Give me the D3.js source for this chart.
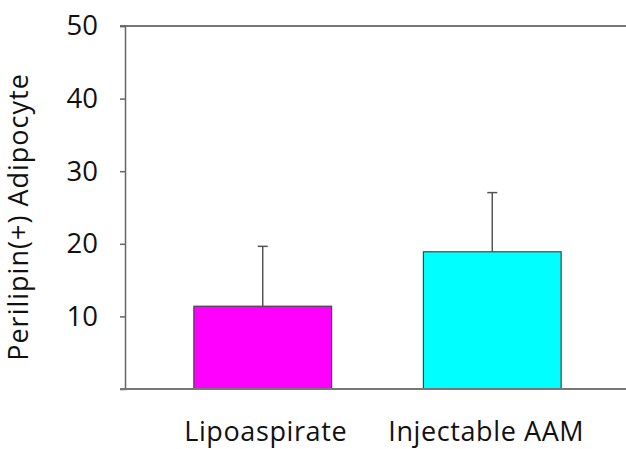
<!DOCTYPE html>
<html>
<head>
<meta charset="utf-8">
<script src="https://cdn.jsdelivr.net/npm/d3@7"></script>
<style>
  body { margin: 0; background: #fff; }
  text { font-family: "Open Sans", sans-serif; fill: #111; }
</style>
</head>
<body>
<div class="svg-container"></div>
<script>
// chart data
const categories = ["Lipoaspirate", "Injectable AAM"];
const means = [11.4, 18.9];
const errors = [8.25, 8.15];
const barColors = ["#ff00ff", "#00ffff"];
const yTicks = [10, 20, 30, 40, 50];
const yTitle = "Perilipin(+) Adipocyte";

const width = 626;
const height = 449;
const margin = { top: 26, left: 125, bottom: 60 };

const svg = d3
  .select(".svg-container")
  .append("svg")
  .attr("width", width)
  .attr("height", height);

// scales
const xScale = d3
  .scaleBand()
  .domain(categories)
  .range([margin.left, 630])
  .paddingInner(0.4)
  .paddingOuter(0.3);

const yScale = d3
  .scaleLinear()
  .domain([0, 50])
  .range([389, margin.top]);

// top frame line
svg
  .append("line")
  .attr("x1", margin.left - 5)
  .attr("x2", width)
  .attr("y1", yScale(50))
  .attr("y2", yScale(50))
  .attr("stroke", "#777")
  .attr("stroke-width", 2);

// bars
svg
  .selectAll(".bar")
  .data(categories)
  .enter()
  .append("rect")
  .attr("class", "bar")
  .attr("x", (d) => xScale(d))
  .attr("y", (d, i) => yScale(means[i]))
  .attr("width", xScale.bandwidth())
  .attr("height", (d, i) => yScale(0) - yScale(means[i]))
  .attr("fill", (d, i) => barColors[i])
  .attr("stroke", "#444")
  .attr("stroke-width", 1.2);

// error bars (upper only)
const errG = svg.append("g").attr("stroke", "#555").attr("stroke-width", 1.5);
categories.forEach((c, i) => {
  const cx = xScale(c) + xScale.bandwidth() / 2;
  errG
    .append("line")
    .attr("x1", cx)
    .attr("x2", cx)
    .attr("y1", yScale(means[i]))
    .attr("y2", yScale(means[i] + errors[i]));
  errG
    .append("line")
    .attr("x1", cx - 5)
    .attr("x2", cx + 5)
    .attr("y1", yScale(means[i] + errors[i]))
    .attr("y2", yScale(means[i] + errors[i]));
});

// y axis
const yAxis = svg
  .append("g")
  .attr("class", "y-axis")
  .attr("transform", `translate(${margin.left},0)`)
  .call(d3.axisLeft(yScale).tickValues(yTicks).tickSize(5).tickPadding(22));
yAxis.select(".domain").attr("stroke", "#666").attr("stroke-width", 1.5);
yAxis.selectAll(".tick line").attr("stroke", "#666").attr("stroke-width", 1.5);
yAxis
  .selectAll(".tick text")
  .attr("font-size", 27.5)
  .attr("font-family", '"Open Sans", sans-serif')
  .attr("fill", "#111");

// baseline
svg
  .append("line")
  .attr("x1", margin.left - 5)
  .attr("x2", width)
  .attr("y1", yScale(0))
  .attr("y2", yScale(0))
  .attr("stroke", "#777")
  .attr("stroke-width", 2);

// category labels (nudged a little, as in the original figure)
const labelNudge = [3, -6];
svg
  .selectAll(".x-label")
  .data(categories)
  .enter()
  .append("text")
  .attr("class", "x-label")
  .attr("x", (d, i) => xScale(d) + xScale.bandwidth() / 2 + labelNudge[i])
  .attr("y", 441)
  .attr("text-anchor", "middle")
  .attr("font-size", 27)
  .attr("letter-spacing", 0.6)
  .text((d) => d);

// y title
svg
  .append("text")
  .attr("class", "y-label")
  .attr("transform", "translate(28,217) rotate(-90)")
  .attr("text-anchor", "middle")
  .attr("font-size", 27)
  .attr("letter-spacing", 1)
  .text(yTitle);
</script>
</body>
</html>
